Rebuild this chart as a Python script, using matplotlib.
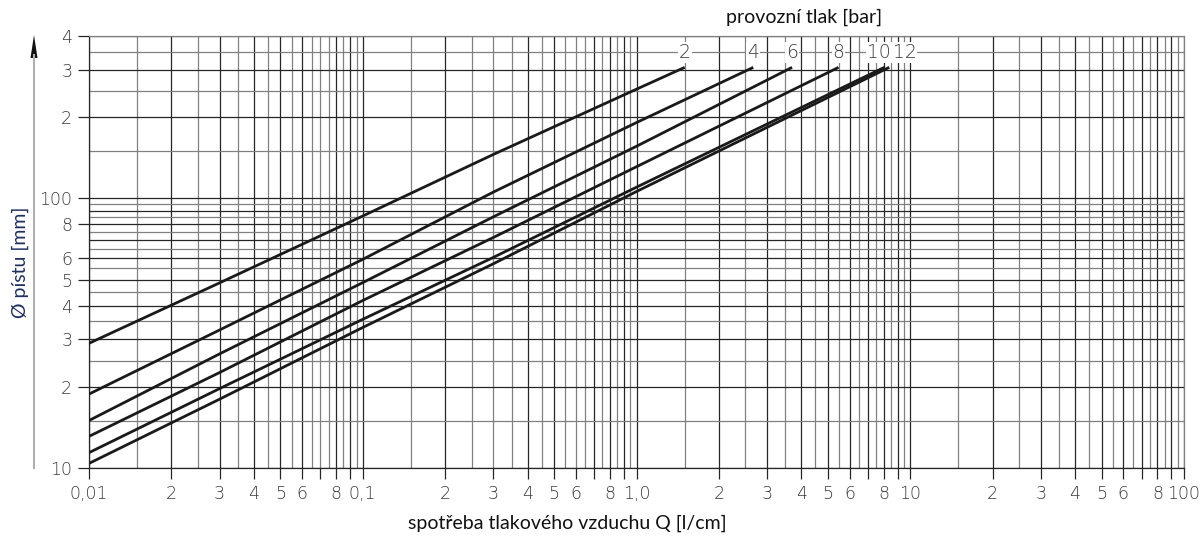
import matplotlib
matplotlib.use("Agg")
import matplotlib.pyplot as plt
from matplotlib.lines import Line2D
from matplotlib.patches import Polygon
import numpy as np

# operating pressures [bar] and the curves
pressures = ["2", "4", "6", "8", "10", "12"]
q_points = [0.01, 0.03, 0.1, 0.3, 1.0]
d_p2 = [29, 48.6, 86, 145.5, 254]
d_p4 = [18.8, 32.5, 59.4, 105.5, 191]
d_p6 = [15.0, 26.5, 48.7, 85.4, 156]
d_p8 = [13.1, 22.6, 41.8, 71.6, 131]
d_p10 = [11.4, 19.7, 35.6, 60.4, 110]
d_p12 = [10.4, 18.0, 33.2, 57.2, 106]
q_end = [1.5, 2.67, 3.70, 5.47, 8.04, 8.38]
d_end = [306, 306, 306, 306, 306, 306]

x_ticks = [0.01, 0.02, 0.03, 0.04, 0.05, 0.06, 0.07, 0.08, 0.09,
           0.1, 0.2, 0.3, 0.4, 0.5, 0.6, 0.7, 0.8, 0.9,
           1, 2, 3, 4, 5, 6, 7, 8, 9,
           10, 20, 30, 40, 50, 60, 70, 80, 90, 100]
x_labels = ["0,01", "2", "3", "4", "5", "6", "", "8", "",
            "0,1", "2", "3", "4", "5", "6", "", "8", "",
            "1,0", "2", "3", "4", "5", "6", "", "8", "",
            "10", "2", "3", "4", "5", "6", "", "8", "", "100"]
y_ticks = [10, 20, 30, 40, 50, 60, 80, 100, 200, 300, 400]
y_labels = ["10", "2", "3", "4", "5", "6", "8", "100", "2", "3", "4"]

W, H = 1204, 539
fig = plt.figure(figsize=(W / 100, H / 100), dpi=100)
ax = fig.add_axes([89 / W, 1 - 468 / H, (1184 - 89) / W, (468 - 36) / H])
ax.set_xscale("log")
ax.set_yscale("log")
ax.set_xlim(0.01, 100)
ax.set_ylim(10, 400)

# grid: every half step of each decade
steps = np.arange(1.0, 10.0, 0.5)
x_grid = [s * 10.0 ** e for e in range(-2, 2) for s in steps] + [100]
y_grid = [s * 10.0 ** e for e in range(1, 3) for s in steps if s * 10.0 ** e <= 400]
for gx in x_grid:
    c = "#262626" if float(gx / 10 ** np.floor(np.log10(gx) + 1e-9)).is_integer() else "#808080"
    ax.axvline(gx, color=c, lw=0.9, zorder=1)
for gy in y_grid:
    c = "#262626" if float(gy / 10 ** np.floor(np.log10(gy) + 1e-9)).is_integer() else "#808080"
    ax.axhline(gy, color=c, lw=0.9, zorder=1)

tick_font = dict(family="DejaVu Sans", weight="light", size=12.5, color="#3a3a3a")
ax.set_xticks(x_ticks)
ax.set_xticklabels(x_labels, **tick_font)
ax.set_yticks(y_ticks)
ax.set_yticklabels(y_labels, **tick_font)
ax.minorticks_off()
ax.tick_params(direction="out", length=8, width=0.9, color="#262626", pad=4)

for s in ["top", "right"]:
    ax.spines[s].set_color("#808080")
for s in ["bottom", "left"]:
    ax.spines[s].set_color("#262626")
for s in ax.spines.values():
    s.set_linewidth(0.9)

curves = [d_p2, d_p4, d_p6, d_p8, d_p10, d_p12]
label_dx = [0, 0, 0, 0, -4, 11]
for p, d, qe, de, dx in zip(pressures, curves, q_end, d_end, label_dx):
    ax.plot(q_points + [qe], d + [de], color="#1a1a1a", lw=2.0,
            solid_capstyle="butt", zorder=3)
    ax.annotate(p, (qe, de), xytext=(dx, 11), textcoords="offset points",
                ha="center", va="center", fontsize=13.5, fontweight="light",
                family="DejaVu Sans", color="#3a3a3a", zorder=4,
                bbox=dict(boxstyle="square,pad=0.05", fc="white", ec="none"))

fig.text(804 / W, 1 - 17 / H, "provozní tlak [bar]", ha="center", va="center",
         family="Lato", fontsize=14, color="#111111")
fig.text(567 / W, 1 - 523 / H, "spotřeba tlakového vzduchu Q [l/cm]",
         ha="center", va="center", family="Lato", fontsize=14, color="#111111")
fig.text(20 / W, 1 - 262 / H, "Ø pístu [mm]", rotation=90, ha="center",
         va="center", family="Lato", fontsize=14, color="#1f2f5f")

# arrow beside the y axis
fig.add_artist(Line2D([34 / W, 34 / W], [1 - 468 / H, 1 - 55 / H],
                      color="#b0b0b0", lw=1.5))
fig.add_artist(Polygon([[30.5 / W, 1 - 58 / H], [37.5 / W, 1 - 58 / H],
                        [34 / W, 1 - 35 / H]], closed=True,
                       transform=fig.transFigure, fc="#111111", ec="none"))

fig.savefig("out.png", dpi=100)
